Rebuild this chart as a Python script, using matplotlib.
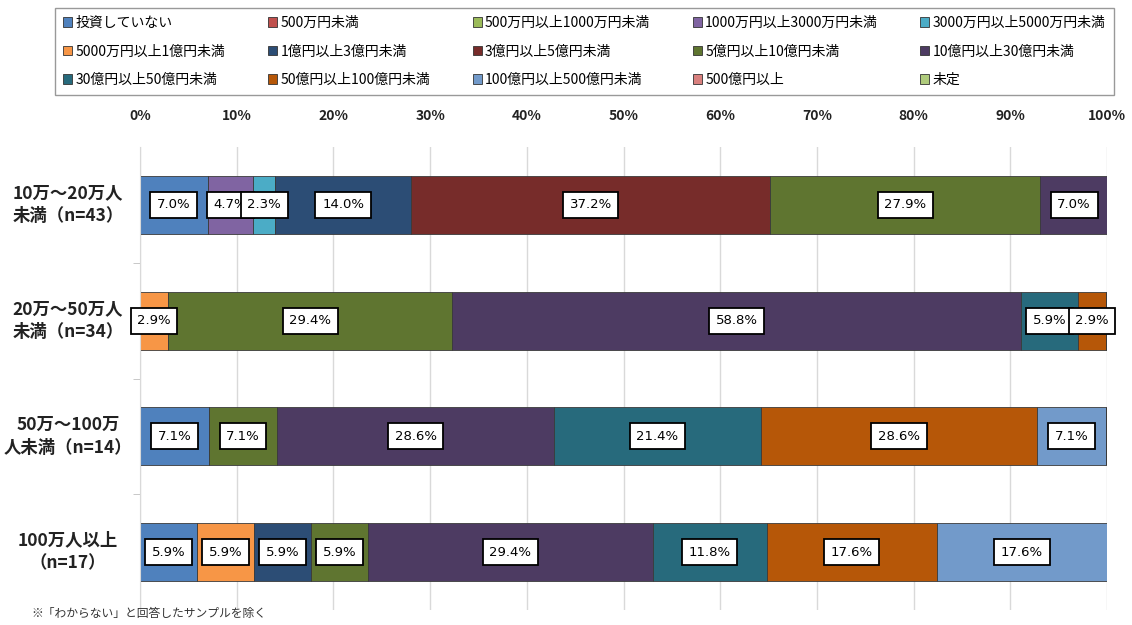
import numpy as np
import matplotlib
matplotlib.use('Agg')
import matplotlib.pyplot as plt
from matplotlib.patches import Patch

plt.rcParams['font.family'] = ['Noto Sans CJK JP', 'DejaVu Sans']

categories = ['10万～20万人\n未満（n=43）', '20万～50万人\n未満（n=34）',
              '50万～100万\n人未満（n=14）', '100万人以上\n（n=17）']

series = ['投資していない', '500万円未満', '500万円以上1000万円未満', '1000万円以上3000万円未満',
          '3000万円以上5000万円未満', '5000万円以上1億円未満', '1億円以上3億円未満', '3億円以上5億円未満',
          '5億円以上10億円未満', '10億円以上30億円未満', '30億円以上50億円未満', '50億円以上100億円未満',
          '100億円以上500億円未満', '500億円以上', '未定']

colors = ['#4F81BD', '#C0504D', '#9BBB59', '#8064A2', '#4BACC6', '#F79646', '#2C4D75', '#772C2A',
          '#5F7530', '#4D3B62', '#276A7C', '#B65708', '#729ACA', '#D9807E', '#AFCB7C']

# rows = categories, columns = series (%)
values = np.array([
    [7.0, 0, 0, 4.7, 2.3, 0, 14.0, 37.2, 27.9, 7.0, 0, 0, 0, 0, 0],
    [0, 0, 0, 0, 0, 2.9, 0, 0, 29.4, 58.8, 5.9, 2.9, 0, 0, 0],
    [7.1, 0, 0, 0, 0, 0, 0, 0, 7.1, 28.6, 21.4, 28.6, 7.1, 0, 0],
    [5.9, 0, 0, 0, 0, 5.9, 5.9, 0, 5.9, 29.4, 11.8, 17.6, 17.6, 0, 0],
])

fig = plt.figure(figsize=(11.32, 6.25), dpi=100)
ax = fig.add_axes([0.1237, 0.024, 0.8542, 0.7408])

y = np.arange(len(categories))
left = np.zeros(len(categories))
for j, name in enumerate(series):
    v = values[:, j]
    ax.barh(y, v, left=left, height=0.5, color=colors[j], edgecolor='#3a3a3a',
            linewidth=0.6, zorder=2)
    for i in range(len(categories)):
        if v[i] > 0:
            ax.text(left[i] + v[i] / 2, y[i], '%.1f%%' % v[i], ha='center', va='center',
                    fontsize=9.5, family='DejaVu Sans', zorder=4,
                    bbox=dict(boxstyle='square,pad=0.5', fc='white', ec='black', lw=1.3))
    left += v

ax.set_xlim(0, 100)
ax.set_ylim(len(categories) - 0.5, -0.5)
ax.xaxis.tick_top()
ax.set_xticks(np.arange(0, 101, 10))
ax.set_xticklabels(['%d%%' % t for t in range(0, 101, 10)], fontsize=10, fontweight='bold',
                   color='#222222')
ax.tick_params(axis='x', length=0, pad=17)
ax.grid(axis='x', color='#D9D9D9', linewidth=1, zorder=0)

ax.set_yticks([])
ax.set_yticks(np.arange(len(categories) - 1) + 0.5, minor=True)
ax.tick_params(axis='y', which='minor', length=5, color='#BFBFBF')
ax.set_yticklabels([], minor=True)

for s in ['top', 'right', 'bottom']:
    ax.spines[s].set_visible(False)
ax.spines['left'].set_color('#D9D9D9')

for i, c in enumerate(categories):
    ax.text(-0.0745, y[i], c, transform=ax.get_yaxis_transform(), ha='center', va='center',
            fontsize=12.5, fontweight='bold', color='#222222', linespacing=1.35)

# legend reads row by row in the reference
order = [c + 5 * r for c in range(5) for r in range(3)]
handles = [Patch(facecolor=colors[j], edgecolor='#333333', linewidth=0.6) for j in order]
labels = [series[j] for j in order]
fig.legend(handles, labels, loc='upper left', bbox_to_anchor=(0.0486, 0.988), ncol=5,
           fontsize=10, frameon=True, fancybox=False, edgecolor='#808080',
           handlelength=0.65, handleheight=0.65, handletextpad=0.25, columnspacing=3.05,
           labelspacing=1.05, borderpad=0.6, borderaxespad=0)

fig.text(0.028, 0.018, '※「わからない」と回答したサンプルを除く', fontsize=8.5, color='#333333', va='center')

fig.savefig('out.png', dpi=100)
